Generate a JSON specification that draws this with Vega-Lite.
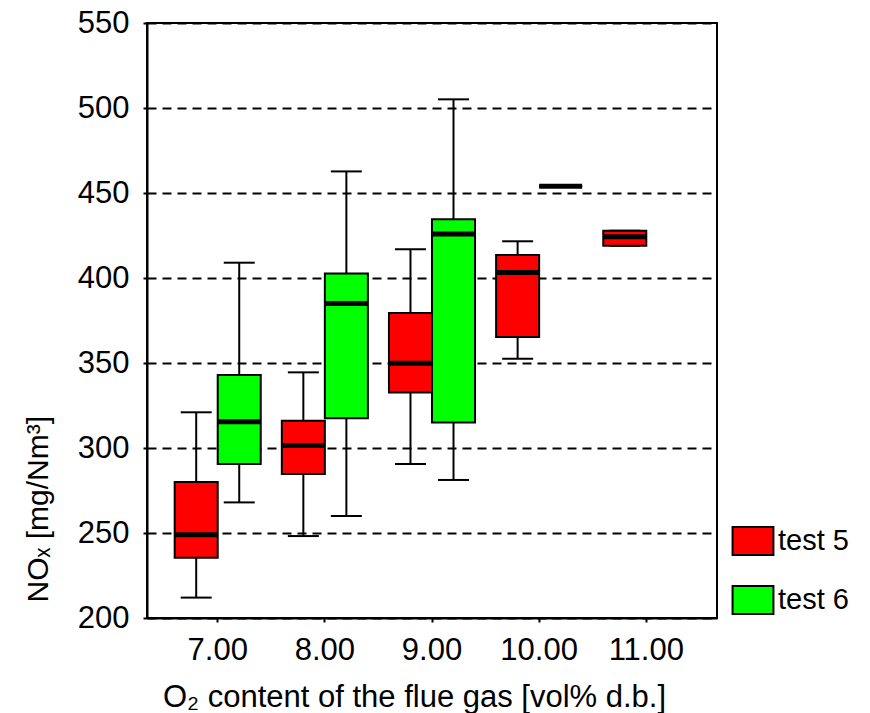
{
  "$schema": "https://vega.github.io/schema/vega-lite/v6.json",
  "width": 570,
  "height": 595,
  "autosize": {"type": "none"},
  "padding": {"left": 147, "top": 23, "right": 153, "bottom": 95},
  "background": "white",
  "config": {
    "view": {"stroke": "black", "strokeWidth": 2},
    "font": "Liberation Sans",
    "axis": {
      "labelFont": "Liberation Sans",
      "titleFont": "Liberation Sans",
      "labelColor": "black",
      "titleColor": "black",
      "titleFontWeight": "normal",
      "domainColor": "black",
      "domainWidth": 2,
      "tickColor": "black",
      "tickWidth": 2
    }
  },
  "data": {
    "values": [
      {"o2": "7.00", "test": "test 5", "min": 212, "q1": 235.5, "median": 249, "q3": 280, "max": 321},
      {"o2": "7.00", "test": "test 6", "min": 268, "q1": 290.6, "median": 315.5, "q3": 343, "max": 409},
      {"o2": "8.00", "test": "test 5", "min": 248.2, "q1": 284.7, "median": 301.4, "q3": 316, "max": 344.5},
      {"o2": "8.00", "test": "test 6", "min": 260, "q1": 317.5, "median": 385, "q3": 402.7, "max": 462.7},
      {"o2": "9.00", "test": "test 5", "min": 290.6, "q1": 332.7, "median": 349.8, "q3": 379.4, "max": 416.9},
      {"o2": "9.00", "test": "test 6", "min": 281.2, "q1": 315, "median": 425.9, "q3": 434.5, "max": 505.1},
      {"o2": "10.00", "test": "test 5", "min": 352.5, "q1": 365.3, "median": 403.3, "q3": 413.5, "max": 421.6},
      {"o2": "10.00", "test": "test 6", "min": 453.9, "q1": 453.9, "median": 453.9, "q3": 453.9, "max": 453.9},
      {"o2": "11.00", "test": "test 5", "min": 419, "q1": 419, "median": 424.3, "q3": 427.8, "max": 427.8}
    ]
  },
  "encoding": {
    "x": {
      "field": "o2",
      "type": "nominal",
      "sort": ["7.00", "8.00", "9.00", "10.00", "11.00"],
      "scale": {"type": "band", "paddingInner": 0, "paddingOuter": 0.16},
      "axis": {
        "title": "O₂ content of the flue gas [vol% d.b.]",
        "labelAngle": 0,
        "labelFontSize": 31,
        "labelDx": 10,
        "labelPadding": 13,
        "tickSize": 4,
        "titleFontSize": 31,
        "titlePadding": 17,
        "titleX": 267,
        "grid": false
      }
    },
    "xOffset": {
      "field": "test",
      "type": "nominal",
      "scale": {"domain": ["test 5", "test 6"], "paddingInner": 0, "paddingOuter": 0.245}
    }
  },
  "layer": [
    {
      "mark": {"type": "rule", "color": "black", "strokeWidth": 2},
      "encoding": {
        "y": {
          "field": "min",
          "type": "quantitative",
          "scale": {"domain": [200, 550], "nice": false, "zero": false},
          "axis": {
            "title": "NOₓ [mg/Nm³]",
            "titleFontSize": 30,
            "titleAnchor": "start",
            "titleY": 579,
            "titlePadding": 24,
            "labelFontSize": 31,
            "labelPadding": 14,
            "tickSize": 4,
            "values": [200, 250, 300, 350, 400, 450, 500, 550],
            "grid": true,
            "gridColor": "black",
            "gridWidth": 2,
            "gridDash": [9, 6],
            "gridOpacity": 1
          }
        },
        "y2": {"field": "max"}
      }
    },
    {
      "mark": {"type": "tick", "color": "black", "size": 31, "thickness": 2, "opacity": 1},
      "encoding": {"y": {"field": "min", "type": "quantitative"}}
    },
    {
      "mark": {"type": "tick", "color": "black", "size": 31, "thickness": 2, "opacity": 1},
      "encoding": {"y": {"field": "max", "type": "quantitative"}}
    },
    {
      "mark": {"type": "bar", "stroke": "black", "strokeWidth": 2, "opacity": 1},
      "encoding": {
        "y": {"field": "q1", "type": "quantitative"},
        "y2": {"field": "q3"},
        "fill": {
          "field": "test",
          "type": "nominal",
          "scale": {"domain": ["test 5", "test 6"], "range": ["#ff0000", "#00ff00"]},
          "legend": {
            "title": null,
            "orient": "none",
            "legendX": 591,
            "legendY": 503,
            "symbolType": "M-1.46,-1H1.46V1H-1.46Z",
            "symbolSize": 784,
            "symbolStrokeColor": "black",
            "symbolStrokeWidth": 2,
            "symbolOpacity": 1,
            "labelFont": "Liberation Sans",
            "labelFontSize": 29,
            "labelColor": "black",
            "labelOffset": 10,
            "rowPadding": 23
          }
        }
      }
    },
    {
      "mark": {"type": "tick", "color": "black", "size": 43, "thickness": 5, "opacity": 1},
      "encoding": {"y": {"field": "median", "type": "quantitative"}}
    }
  ]
}
